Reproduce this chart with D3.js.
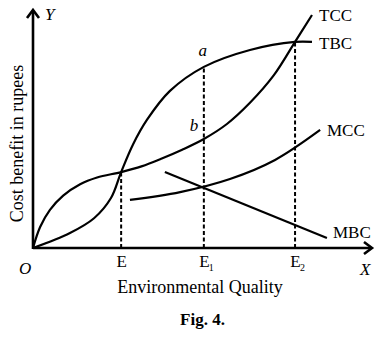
<!DOCTYPE html>
<html><head><meta charset="utf-8">
<script src="https://cdn.jsdelivr.net/npm/d3@7"></script>
<style>
html,body{margin:0;padding:0;background:#fff;}
svg{display:block;}
text{font-family:"Liberation Serif","Times New Roman",serif;fill:#000;}
</style></head>
<body>
<svg id="c" width="384" height="340"></svg>
<script>
// ---- data (x: environmental quality, y: cost/benefit, arbitrary units 0-100) ----
const tcc = [[0,0],[2.1,8.8],[5.0,16.0],[8.9,22.0],[13.9,26.8],[18.9,29.6],[26.0,31.9],[32.0,34.3],[38.0,37.6],[44.0,41.3],[50.4,45.8],[57.2,52.1],[64.0,61.0],[71.0,72.5],[77.3,86.6],[82.3,97.9]];
const tbc = [[0,0],[10.9,6.3],[18.0,12.5],[23.0,21.0],[26.0,31.9],[29.5,43.5],[33.6,53.8],[40.4,66.0],[50.4,76.1],[64.0,83.2],[77.3,86.6],[82.3,86.6]];
const mcc = [[28.6,20.2],[43.4,23.5],[58.1,29.0],[71.4,37.0],[84.7,49.6]];
const mbc = [[38.9,31.9],[86.7,4.2]];
const tickPos = [26.0, 50.4, 77.3];
const tickMain = ["E","E","E"];
const tickSub = ["","1","2"];
const dropTop = [31.9, 76.1, 86.6];
const curveNames = ["TCC","TBC","MCC","MBC"];
const pointLabels = [["a",50.1,80.5],["b",47.5,49.0]];

const svg = d3.select("#c");
const x = d3.scaleLinear().domain([0,100]).range([33,372]);
const y = d3.scaleLinear().domain([0,100]).range([248,10]);
const line = d3.line().x(d=>x(d[0])).y(d=>y(d[1])).curve(d3.curveCatmullRom.alpha(0.5));

// dashed drop lines
svg.selectAll("line.drop").data(tickPos).enter().append("line")
  .attr("x1",d=>x(d)).attr("x2",d=>x(d))
  .attr("y1",y(0)).attr("y2",(d,i)=>y(dropTop[i]))
  .attr("stroke","#000").attr("stroke-width",2).attr("stroke-dasharray","4,2.5");

// curves
const curves = [tcc,tbc,mcc,mbc];
svg.selectAll("path.curve").data(curves).enter().append("path")
  .attr("d",d=>line(d)).attr("fill","none").attr("stroke","#000").attr("stroke-width",2.2);

// axes
const xAxis = d3.axisBottom(x).tickValues(tickPos).tickSize(0).tickPadding(0).tickFormat((d,i)=>tickMain[i]);
const gx = svg.append("g").attr("transform",`translate(0,${y(0)})`).call(xAxis);
gx.select(".domain").remove();
gx.selectAll(".tick text").attr("font-size",17).attr("font-family","Liberation Serif").attr("dy",null).attr("y",19);
gx.selectAll(".tick").each(function(d,i){
  if(tickSub[i]) d3.select(this).append("text").attr("x",7).attr("y",23).attr("font-size",10).attr("font-family","Liberation Serif").attr("fill","#000").text(tickSub[i]);
});
const yAxis = d3.axisLeft(y).tickValues([]).tickSize(0);
const gy = svg.append("g").attr("transform",`translate(${x(0)},0)`).call(yAxis);
gy.select(".domain").remove();

// axis lines with arrows
svg.append("line").attr("x1",x(0)).attr("y1",y(0)).attr("x2",x(100)-1).attr("y2",y(0)).attr("stroke","#000").attr("stroke-width",2.6);
svg.append("line").attr("x1",x(0)).attr("y1",y(0)+1).attr("x2",x(0)).attr("y2",y(100)+1).attr("stroke","#000").attr("stroke-width",2.6);
svg.append("path").attr("d",`M${x(100)-8},${y(0)-6}L${x(100)},${y(0)}L${x(100)-8},${y(0)+6}`)
  .attr("fill","none").attr("stroke","#000").attr("stroke-width",2.6);
svg.append("path").attr("d",`M${x(0)-6},${y(100)+8}L${x(0)},${y(100)}L${x(0)+6},${y(100)+8}`)
  .attr("fill","none").attr("stroke","#000").attr("stroke-width",2.6);

// curve labels
const lblPos = [[319,21],[319,49],[327,136],[333,238]];
svg.selectAll("text.cl").data(curveNames).enter().append("text")
  .attr("x",(d,i)=>lblPos[i][0]).attr("y",(d,i)=>lblPos[i][1]).attr("font-size",17).text(d=>d);

// point labels
svg.selectAll("text.pl").data(pointLabels).enter().append("text")
  .attr("x",d=>x(d[1])).attr("y",d=>y(d[2])).attr("text-anchor","middle")
  .attr("font-size",17).attr("font-style","italic").text(d=>d[0]);

// axis letters
svg.append("text").attr("x",45).attr("y",20).attr("font-size",17).attr("font-style","italic").text("Y");
svg.append("text").attr("x",360).attr("y",275).attr("font-size",17).attr("font-style","italic").text("X");
svg.append("text").attr("x",19).attr("y",274).attr("font-size",17).attr("font-style","italic").text("O");

// titles
svg.append("text").attr("x",200).attr("y",293).attr("text-anchor","middle").attr("font-size",18).text("Environmental Quality");
svg.append("text").attr("transform","translate(23,143.5) rotate(-90)").attr("text-anchor","middle").attr("font-size",18).text("Cost benefit in rupees");
svg.append("text").attr("x",202.5).attr("y",325).attr("text-anchor","middle").attr("font-size",17).attr("font-weight","bold").text("Fig. 4.");
</script>
</body></html>
